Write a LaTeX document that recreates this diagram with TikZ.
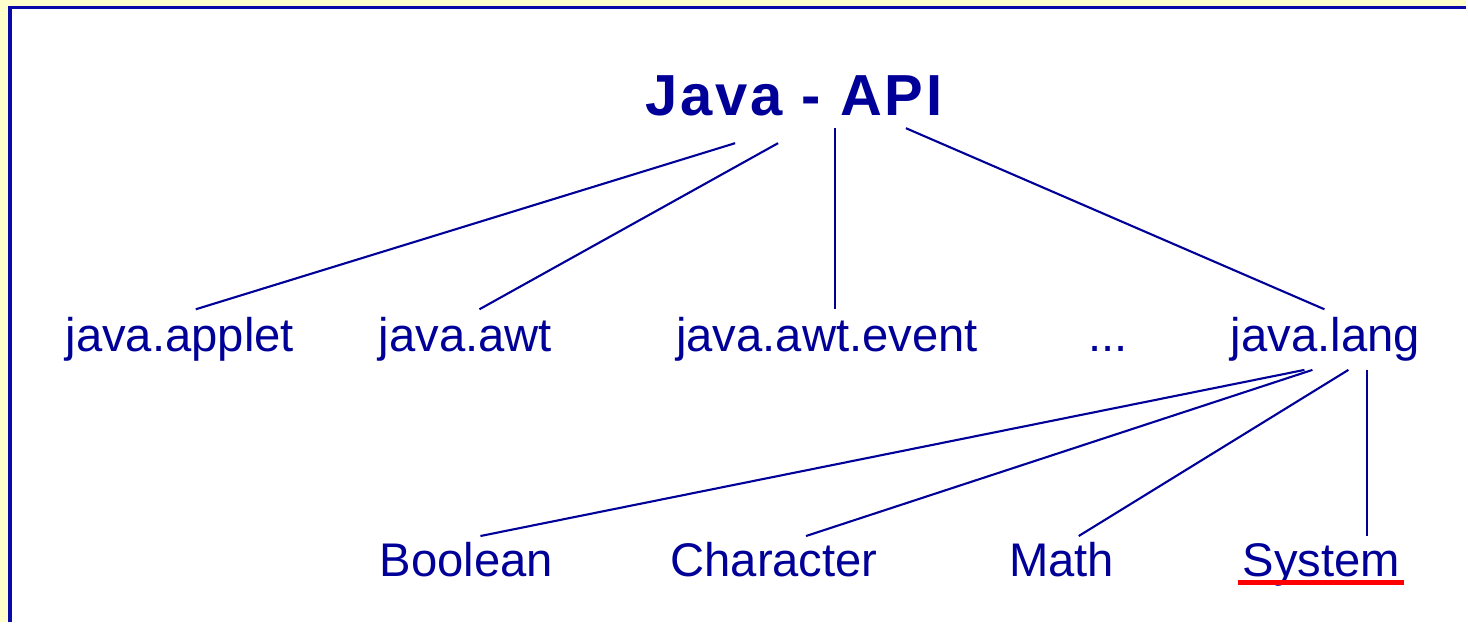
\documentclass[tikz,border=0pt]{standalone}
\usepackage{fontspec}
\setmainfont{Liberation Sans}
\newfontfamily\titlefont[LetterSpace=5]{Liberation Sans}
\definecolor{apiblue}{RGB}{0,0,153}
\definecolor{frameblue}{RGB}{10,10,170}
\definecolor{paleyellow}{RGB}{255,255,204}

\begin{document}
\begin{tikzpicture}[x=0.02cm,y=-0.02cm,
  every node/.style={text=apiblue, inner sep=0pt, anchor=base},
  pkg/.style={font=\fontsize{26.9}{32}\selectfont, text height=0.84cm, text depth=0.36cm},
  cls/.style={font=\fontsize{26.9}{32}\selectfont, text height=0.8cm, text depth=0.2cm},
  link/.style={draw=apiblue, line width=1.2pt}]

\def \picw{1468}
\def \pich{623}
\def \pkgy{352}
\def \clsy{577}

% background and frame
\fill [paleyellow] (0,0) rectangle (\picw,\pich);
\fill [white] (10,7.5) rectangle (\picw,\pich);
\draw [frameblue, line width=2pt] (10,\pich) -- (10,7.5) -- (\picw,7.5);
\useasboundingbox (0,0) rectangle (\picw,\pich);

% root
\node (api) [font=\titlefont\bfseries\fontsize{33}{40}\selectfont, text depth=0.24cm] at (795,116) {Java - API};

% packages
\node (applet) [pkg] at (180,\pkgy) {java.applet};
\node (awt) [pkg] at (466,\pkgy) {java.awt};
\node (event) [pkg] at (828,\pkgy) {java.awt.event};
\node (dots) [pkg] at (1109,\pkgy) {...};
\node (lang) [pkg] at (1327,\pkgy) {java.lang};

% classes of java.lang
\node (boolean) [cls] at (467,\clsy) {Boolean};
\node (character) [cls] at (775,\clsy) {Character};
\node (math) [cls] at (1063,\clsy) {Math};
\node (system) [cls] at (1323,\clsy) {System};

\draw [link] ([shift={(-59,15)}]api.south) -- ([shift={(16,0)}]applet.north);
\draw [link] ([shift={(-16,15)}]api.south) -- ([shift={(14,0)}]awt.north);
\draw [link] ([shift={(41,0)}]api.south) -- ([shift={(8,0)}]event.north);
\draw [link] ([shift={(112,0)}]api.south) -- ([shift={(-1,0)}]lang.north);

\draw [link] ([shift={(-21,0)}]lang.south) -- ([shift={(14,0)}]boolean.north);
\draw [link] ([shift={(-13,0)}]lang.south) -- ([shift={(32,0)}]character.north);
\draw [link] ([shift={(23,0)}]lang.south) -- ([shift={(17,0)}]math.north);
\draw [link] ([shift={(42,0)}]lang.south) -- ([shift={(46,0)}]system.north);

\draw [red, line width=2.8pt] ([shift={(-4,6.5)}]system.base west) -- ([shift={(4,6.5)}]system.base east);
\end{tikzpicture}
\end{document}
